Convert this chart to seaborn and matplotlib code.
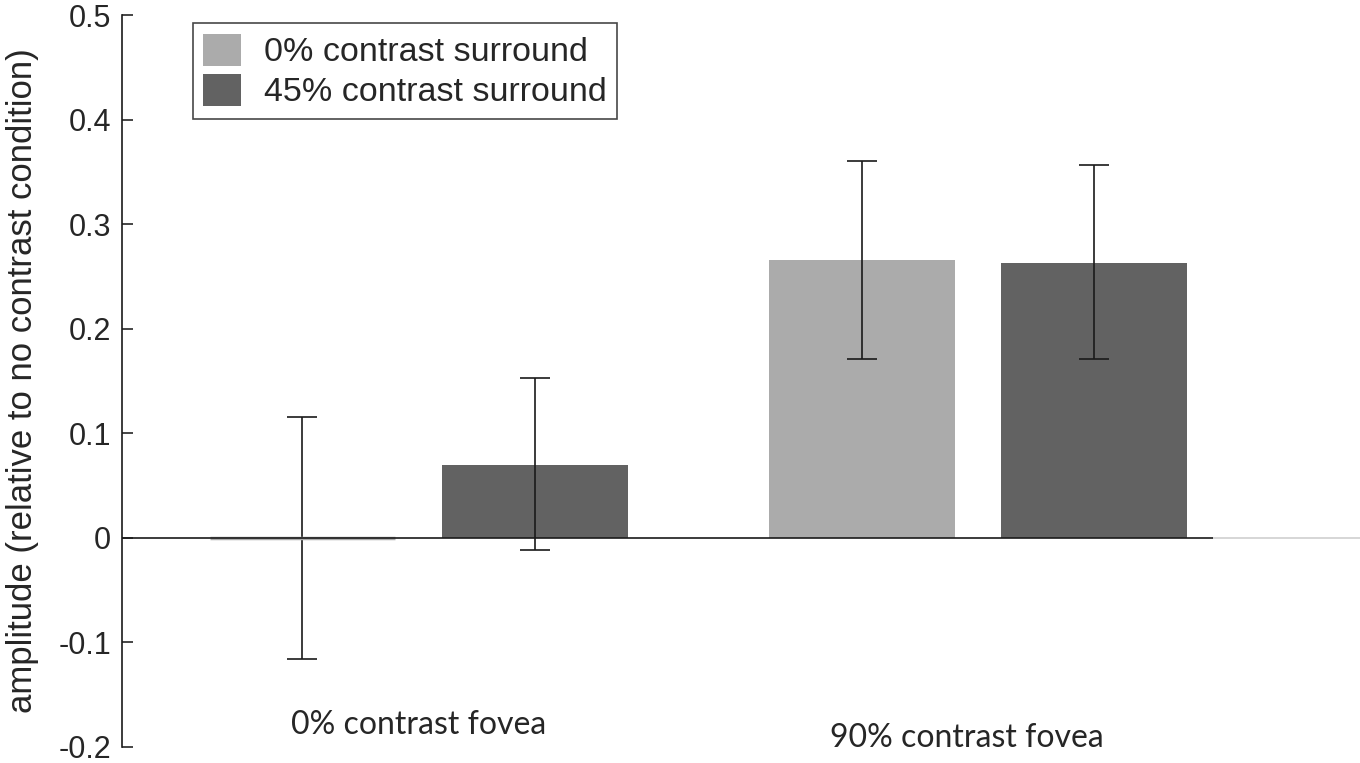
import pandas as pd
import matplotlib.pyplot as plt
import seaborn as sns

# values
fovea = ["0% contrast fovea", "90% contrast fovea"]
surround = ["0% contrast surround", "45% contrast surround"]
amp_0 = [0.0, 0.266]
amp_45 = [0.070, 0.263]
err_lo_0 = [-0.116, 0.171]
err_hi_0 = [0.116, 0.361]
err_lo_45 = [-0.012, 0.171]
err_hi_45 = [0.153, 0.357]

df = pd.DataFrame({
    "fovea": fovea * 2,
    "surround": [surround[0]] * 2 + [surround[1]] * 2,
    "amp": amp_0 + amp_45,
})
lo = err_lo_0 + err_lo_45
hi = err_hi_0 + err_hi_45

sns.set_style("white")
plt.rcParams["font.family"] = ["Liberation Sans", "DejaVu Sans"]

fig = plt.figure(figsize=(13.6, 7.63), dpi=100)
ax = fig.add_axes([0.0897, 0.021, 0.8024, 0.959])

sns.barplot(data=df, x="fovea", y="amp", hue="surround",
            palette=["#ababab", "#626262"], width=0.83, gap=0.2,
            errorbar=None, ax=ax, linewidth=0, saturation=1)

# error bars from the bar centres
bars = [b for cont in list(ax.containers) for b in cont]
for i, bar in enumerate(bars):
    xc = bar.get_x() + bar.get_width() / 2
    v = bar.get_height()
    ax.errorbar(xc, v, yerr=[[v - lo[i]], [hi[i] - v]], fmt="none",
                ecolor="#1a1a1a", elinewidth=1.2, capsize=11, capthick=1.2)

# the zero-height bar still shows as a grey stroke on the baseline
b0 = bars[0]
ax.hlines(0, b0.get_x(), b0.get_x() + b0.get_width(), color="#ababab", lw=2.5, zorder=2)

ax.set_xlim(-0.53, 1.42)
ax.set_ylim(-0.2, 0.5)
ax.set_yticks([-0.2, -0.1, 0, 0.1, 0.2, 0.3, 0.4, 0.5])
ax.set_yticklabels(["-0.2", "-0.1", "0", "0.1", "0.2", "0.3", "0.4", "0.5"])
ax.tick_params(axis="y", direction="in", length=8, width=1.2, labelsize=22, pad=8, left=True)
ax.set_xticks([])
ax.set_xlabel("")
ax.set_ylabel("amplitude (relative to no contrast condition)", fontsize=25, labelpad=14)

for s in ["top", "right", "bottom"]:
    ax.spines[s].set_visible(False)
ax.spines["left"].set_color("#1a1a1a")
ax.spines["left"].set_linewidth(1.2)

ax.axhline(0, color="#1a1a1a", lw=1.2, zorder=3)
ax.axhline(0, xmin=1.0, xmax=1.18, color="#d0d0d0", lw=1.2, clip_on=False)

# group labels sit inside the plot area
ax.text(0.0, -0.179, fovea[0], ha="center", va="center", fontsize=23, family="Lato")
ax.text(0.98, -0.191, fovea[1], ha="center", va="center", fontsize=23, family="Lato")

leg = ax.legend(loc="upper left", bbox_to_anchor=(0.065, 0.989), fontsize=24.5,
                frameon=True, fancybox=False, edgecolor="#1a1a1a",
                handlelength=1.1, handleheight=1.1, handletextpad=0.7,
                borderpad=0.3, borderaxespad=0, labelspacing=0.15)
leg.get_frame().set_linewidth(1.2)

plt.savefig("out.png", dpi=100)
